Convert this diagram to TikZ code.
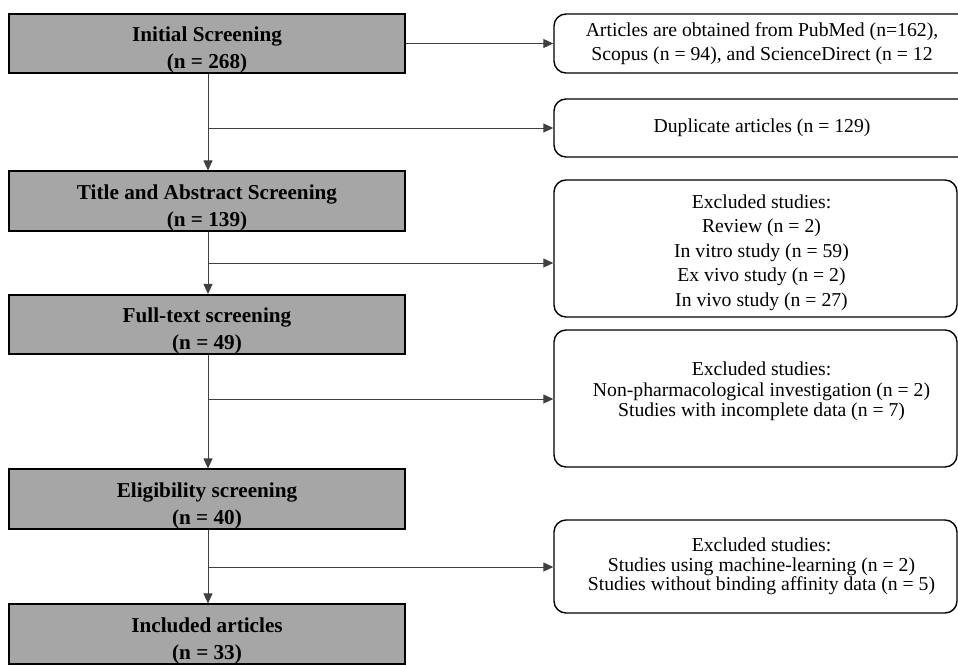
\documentclass[tikz,border=0pt]{standalone}
\usepackage{fontspec}
\setmainfont{Liberation Serif}
\usetikzlibrary{arrows.meta}
\definecolor{boxgray}{HTML}{A6A6A6}
\definecolor{linegray}{HTML}{404040}
\newcommand{\mytopstrut}{\rule{0pt}{28pt}}
\newcommand{\myrshift}{\hspace*{12pt}}
\begin{document}
\begin{tikzpicture}[x=1pt,y=-1pt,
  mainbox/.style={draw=black, line width=1.6pt, fill=boxgray, minimum width=396pt, minimum height=58pt, inner sep=0pt, align=center, font=\fontsize{21.2}{27}\selectfont\bfseries},
  sidebox/.style={draw=black, line width=1.4pt, rounded corners=12pt, inner sep=0pt, align=center, font=\fontsize{19.7}{24}\selectfont},
  conn/.style={draw=linegray, line width=0.9pt},
  arr/.style={conn, -{Triangle[length=10pt,width=9pt]}}]
\useasboundingbox (0,0) rectangle (958,664);
\clip (0,0) rectangle (958,664);
\fill[white] (0,0) rectangle (958,664);

% left column
\node[mainbox, minimum height=59pt] (init) at (207,43.5) {\mytopstrut Initial Screening\\(n = 268)};
\node[mainbox] (title) at (207,201) {\mytopstrut Title and Abstract Screening\\(n = 139)};
\node[mainbox, minimum height=59pt] (full) at (207,324.5) {\mytopstrut Full-text screening\\(n = 49)};
\node[mainbox] (elig) at (207,499) {\mytopstrut Eligibility screening\\(n = 40)};
\node[mainbox] (incl) at (207,634) {\mytopstrut Included articles\\(n = 33)};

% right column
\node[sidebox, minimum width=416pt, minimum height=59pt] (r1) at (762,43.5) {Articles are obtained from PubMed (n=162),\\Scopus (n = 94), and ScienceDirect (n = 12};
\node[sidebox, minimum width=416pt, minimum height=58pt] (r2) at (762,128) {Duplicate articles (n = 129)};
\node[sidebox, minimum width=403pt, minimum height=137pt, font=\fontsize{19.7}{24.5}\selectfont] (r3) at (755.5,248.5) {\myrshift\rule{0pt}{22pt}Excluded studies:\\\myrshift Review (n = 2)\\\myrshift In vitro study (n = 59)\\\myrshift Ex vivo study (n = 2)\\\myrshift In vivo study (n = 27)};
\node[sidebox, minimum width=403pt, minimum height=137pt, font=\fontsize{19.7}{20.5}\selectfont] (r4) at (755.5,398.5) {\myrshift Excluded studies:\\\myrshift Non-pharmacological investigation (n = 2)\\\myrshift Studies with incomplete data (n = 7)\rule[-18pt]{0pt}{0pt}};
\node[sidebox, minimum width=403pt, minimum height=93pt, font=\fontsize{19.7}{19.5}\selectfont] (r5) at (755.5,566.5) {\myrshift Excluded studies:\\\myrshift Studies using machine-learning (n = 2)\\\myrshift Studies without binding affinity data (n = 5)};

% branch points
\coordinate (b1) at (208,128);
\coordinate (b2) at (208,263);
\coordinate (b3) at (208,399);
\coordinate (b4) at (208,567);

% connectors
\draw[arr] (init.east) -- (r1.west);
\draw[arr] (init.south -| b1) -- (title.north -| b1);
\draw[arr] (b1) -- (b1 -| r2.west);
\draw[arr] (title.south -| b2) -- (full.north -| b2);
\draw[arr] (b2) -- (b2 -| r3.west);
\draw[arr] (full.south -| b3) -- (elig.north -| b3);
\draw[arr] (b3) -- (b3 -| r4.west);
\draw[arr] (elig.south -| b4) -- (incl.north -| b4);
\draw[arr] (b4) -- (b4 -| r5.west);
\end{tikzpicture}
\end{document}
